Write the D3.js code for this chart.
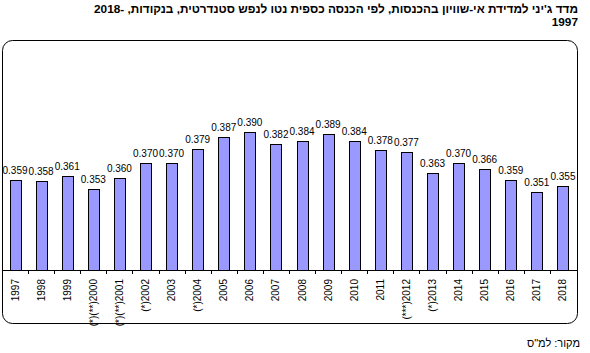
<!DOCTYPE html>
<html>
<head>
<meta charset="utf-8">
<script src="https://cdn.jsdelivr.net/npm/d3@7"></script>
<style>
  body { margin: 0; background: #fff; }
  svg { display: block; font-family: "Liberation Sans", Arial, sans-serif; }
</style>
</head>
<body>
<svg id="chart" width="590" height="353"></svg>
<script>
// data
let years = ["1997", "1998", "1999", "(*)(**)2000", "(*)(**)2001", "(*)2002", "2003", "(*)2004",
  "2005", "2006", "2007", "2008", "2009", "2010", "2011", "(***)2012", "(*)2013",
  "2014", "2015", "2016", "2017", "2018"];
let gini = [0.359, 0.358, 0.361, 0.353, 0.360, 0.370, 0.370, 0.379, 0.387, 0.390, 0.382,
  0.384, 0.389, 0.384, 0.378, 0.377, 0.363, 0.370, 0.366, 0.359, 0.351, 0.355];

let titleLine1 = "מדד ג'יני למדידת אי-שוויון בהכנסות, לפי הכנסה כספית נטו לנפש סטנדרטית, בנקודות, \u202A2018-\u202C";
let titleLine2 = "1997";
let sourceText = "מקור: למ\"ס";

let svg = d3.select("#chart");
let baseY = 270;

// chart frame
svg.append("rect")
  .attr("x", 2.5)
  .attr("y", 40.5)
  .attr("width", 575)
  .attr("height", 283)
  .attr("rx", 10)
  .attr("fill", "none")
  .attr("stroke", "#000")
  .attr("stroke-width", 1);

let x = d3.scaleBand()
  .domain(years)
  .range([2, 576])
  .paddingInner(0.58)
  .paddingOuter(0.29);

let y = d3.scaleLinear()
  .domain([0.30, 0.45])
  .range([baseY, 40]);

// bars
svg.selectAll(".bar")
  .data(years)
  .enter()
  .append("rect")
  .attr("class", "bar")
  .attr("x", (d) => Math.round(x(d)) + 0.5)
  .attr("y", (d, i) => Math.round(y(gini[i])) + 0.5)
  .attr("width", Math.round(x.bandwidth()))
  .attr("height", (d, i) => baseY - Math.round(y(gini[i])))
  .attr("fill", "#9999ff")
  .attr("stroke", "#000")
  .attr("stroke-width", 1);

// value labels
svg.selectAll(".val")
  .data(years)
  .enter()
  .append("text")
  .attr("x", (d) => x(d) + x.bandwidth() / 2)
  .attr("y", (d, i) => y(gini[i]) - 6)
  .attr("text-anchor", "middle")
  .style("font-size", "10px")
  .style("fill", "#000")
  .text((d, i) => d3.format(".3f")(gini[i]));

// x axis line and ticks between categories
svg.append("line")
  .attr("x1", 2).attr("x2", 577)
  .attr("y1", baseY + 0.5).attr("y2", baseY + 0.5)
  .attr("stroke", "#000");

let step = x.step();
svg.selectAll(".tick")
  .data(years.slice(1))
  .enter()
  .append("line")
  .attr("x1", (d) => Math.round(x(d) - (step - x.bandwidth()) / 2) + 0.5)
  .attr("x2", (d) => Math.round(x(d) - (step - x.bandwidth()) / 2) + 0.5)
  .attr("y1", baseY)
  .attr("y2", baseY + 4)
  .attr("stroke", "#000");

// category labels, rotated
svg.selectAll(".cat")
  .data(years)
  .enter()
  .append("text")
  .attr("transform", (d) => "translate(" + (x(d) + x.bandwidth() / 2 + 3.5) + "," + 279 + ") rotate(-90)")
  .attr("text-anchor", "end")
  .style("font-size", "10px")
  .style("fill", "#000")
  .text((d) => d);

// title
svg.append("text")
  .attr("x", 578)
  .attr("y", 13)
  .attr("direction", "rtl")
  .attr("text-anchor", "start")
  .style("font-size", "11.8px")
  .style("font-weight", "bold")
  .text(titleLine1);

svg.append("text")
  .attr("x", 578)
  .attr("y", 26)
  .attr("text-anchor", "end")
  .style("font-size", "11.8px")
  .style("font-weight", "bold")
  .text(titleLine2);

// source
svg.append("text")
  .attr("x", 580)
  .attr("y", 347)
  .attr("direction", "rtl")
  .attr("text-anchor", "start")
  .style("font-size", "11px")
  .text(sourceText);
</script>
</body>
</html>
